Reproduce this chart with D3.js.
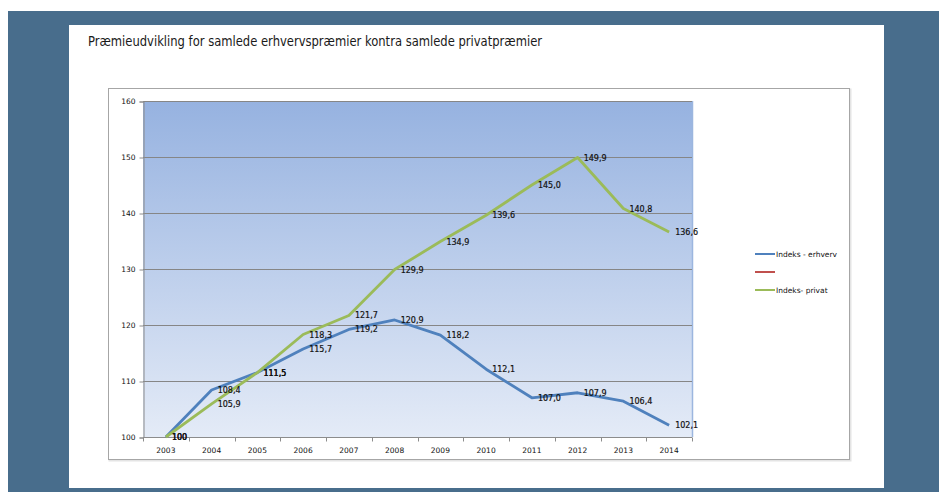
<!DOCTYPE html>
<html>
<head>
<meta charset="utf-8">
<script src="https://cdn.jsdelivr.net/npm/d3@7"></script>
<style>
	html, body { margin: 0; padding: 0; background: #fff; }
	svg { display: block; }
	text { font-family: 'DejaVu Sans', Verdana, sans-serif; fill: #111; }
</style>
</head>
<body>
<div id="chart"></div>
<script>
// data
const years = ['2003', '2004', '2005', '2006', '2007', '2008', '2009', '2010', '2011', '2012', '2013', '2014'];
const erhverv = [100, 108.4, 111.5, 115.7, 119.2, 120.9, 118.2, 112.1, 107.0, 107.9, 106.4, 102.1];
const privat = [100, 105.9, 111.5, 118.3, 121.7, 129.9, 134.9, 139.6, 145.0, 149.9, 140.8, 136.6];
const yTicks = [100, 110, 120, 130, 140, 150, 160];
const seriesNames = ['Indeks - erhverv', '', 'Indeks- privat'];
const seriesColors = ['#4f81bd', '#c0504d', '#9bbb59'];
const title = 'Præmieudvikling for samlede erhvervspræmier kontra samlede privatpræmier';

const W = 943;
const H = 492;
const plot = { left: 143, top: 101, right: 692, bottom: 437 };

const fmt = v => (v === 100 ? '100' : d3.format('.1f')(v).replace('.', ','));

const $svg = d3.select('#chart').append('svg').attr('width', W).attr('height', H);

// page background
$svg.append('rect').attr('x', 8).attr('y', 11).attr('width', 931).attr('height', H - 11).attr('fill', '#486d8c');
$svg.append('rect').attr('x', 69).attr('y', 25).attr('width', 815).attr('height', 463).attr('fill', '#fff');

// title, squeezed to the width it has in the original
const $title = $svg.append('text')
	.attr('x', 88)
	.attr('y', 46)
	.style('font-size', '14px')
	.style('font-family', '"DejaVu Sans Condensed", "DejaVu Sans", sans-serif')
	.style('fill', '#1a1a1a')
	.text(title);
$title.attr('textLength', 454).attr('lengthAdjust', 'spacingAndGlyphs');

// chart frame
$svg.append('rect')
	.attr('x', 109.5).attr('y', 89.5).attr('width', 741).attr('height', 371)
	.attr('fill', 'none').attr('stroke', '#e4e4e4').attr('stroke-width', 2);
$svg.append('rect')
	.attr('x', 108.5).attr('y', 88.5).attr('width', 741).attr('height', 371)
	.attr('fill', '#fff').attr('stroke', '#a6a6a6');

// gradient
const $grad = $svg.append('defs').append('linearGradient')
	.attr('id', 'bg').attr('x1', 0).attr('y1', 0).attr('x2', 0).attr('y2', 1);
$grad.append('stop').attr('offset', '0%').attr('stop-color', '#96b2e0');
$grad.append('stop').attr('offset', '100%').attr('stop-color', '#e4ebf7');

const x = d3.scaleBand().domain(years).range([plot.left, plot.right]);
const y = d3.scaleLinear().domain([100, 160]).range([plot.bottom, plot.top]);

$svg.append('rect')
	.attr('x', plot.left).attr('y', plot.top)
	.attr('width', plot.right - plot.left).attr('height', plot.bottom - plot.top)
	.attr('fill', 'url(#bg)');
$svg.append('line')
	.attr('x1', plot.right + 0.5).attr('x2', plot.right + 0.5)
	.attr('y1', plot.top).attr('y2', plot.bottom)
	.attr('stroke', '#9cb6df').attr('stroke-width', 1.5);

// gridlines
$svg.append('g')
	.selectAll('line')
	.data(yTicks.slice(1))
	.join('line')
	.attr('x1', plot.left).attr('x2', plot.right)
	.attr('y1', d => Math.round(y(d)) + 0.5).attr('y2', d => Math.round(y(d)) + 0.5)
	.attr('stroke', '#868686')
	.attr('stroke-width', 1.2);

// y axis
const $yAxis = $svg.append('g')
	.attr('transform', `translate(${plot.left + 0.5},0.5)`)
	.call(d3.axisLeft(y).tickValues(yTicks).tickSize(4).tickPadding(4));
$yAxis.select('.domain').attr('stroke', '#8c8c8c');
$yAxis.selectAll('.tick line').attr('stroke', '#8c8c8c');
$yAxis.selectAll('text').style('font-size', '7.5px').style('font-family', 'DejaVu Sans').attr('fill', '#111');

// x axis, ticks between categories
const $xAxis = $svg.append('g').attr('transform', `translate(0,${plot.bottom + 0.5})`);
$xAxis.append('line')
	.attr('x1', plot.left).attr('x2', plot.right)
	.attr('stroke', '#8c8c8c');
$xAxis.selectAll('.tk')
	.data(years.concat(['end']))
	.join('line')
	.attr('class', 'tk')
	.attr('x1', (d, i) => Math.round(plot.left + i * x.step()) + 0.5)
	.attr('x2', (d, i) => Math.round(plot.left + i * x.step()) + 0.5)
	.attr('y1', 0).attr('y2', 4)
	.attr('stroke', '#8c8c8c');
$xAxis.selectAll('text')
	.data(years)
	.join('text')
	.attr('x', d => x(d) + x.bandwidth() / 2)
	.attr('y', 15)
	.attr('text-anchor', 'middle')
	.style('font-size', '7.5px')
	.text(d => d);

// lines
const line = d3.line()
	.x((d, i) => x(years[i]) + x.bandwidth() / 2)
	.y(d => y(d));

const series = [
	{ values: erhverv, color: seriesColors[0] },
	{ values: privat, color: seriesColors[2] }
];

series.forEach(s => {
	$svg.append('path')
		.datum(s.values)
		.attr('d', line)
		.attr('fill', 'none')
		.attr('stroke', s.color)
		.attr('stroke-width', 2.8)
		.attr('stroke-linejoin', 'round');
});

// data labels
series.forEach(s => {
	$svg.append('g')
		.selectAll('text')
		.data(s.values)
		.join('text')
		.attr('x', (d, i) => x(years[i]) + x.bandwidth() / 2 + 6)
		.attr('y', d => y(d) + 3)
		.style('font-size', '8px')
		.style('stroke', '#111')
		.style('stroke-width', 0.2)
		.text(d => fmt(d));
});

// legend
const $legend = $svg.append('g').attr('transform', 'translate(755,254)');
const $item = $legend.selectAll('g')
	.data(seriesNames)
	.join('g')
	.attr('transform', (d, i) => `translate(0,${i * 18})`);
$item.append('line')
	.attr('x1', 0).attr('x2', 20)
	.attr('stroke', (d, i) => seriesColors[i])
	.attr('stroke-width', 2);
$item.append('text')
	.attr('x', 21)
	.attr('y', 3)
	.style('font-size', '7.5px')
	.text(d => d);
</script>
</body>
</html>
